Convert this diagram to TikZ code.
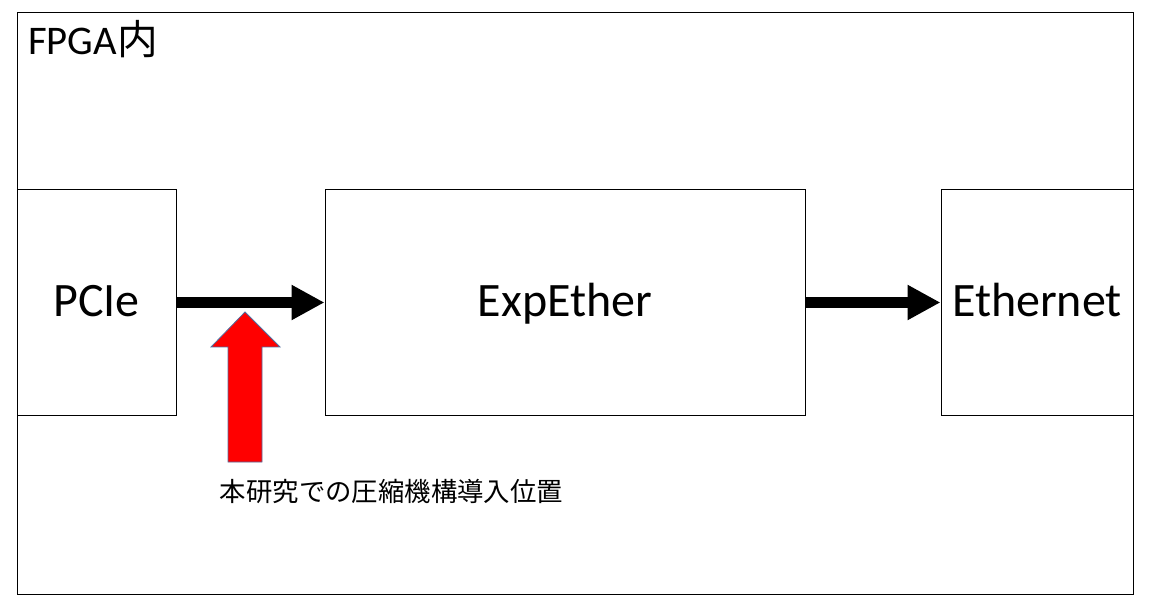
\documentclass[tikz,border=0pt]{standalone}
\usepackage{fontspec}
\setmainfont{Carlito}
\newfontfamily\jp{Noto Sans CJK JP}
\usetikzlibrary{arrows.meta}
\definecolor{edgeblue}{RGB}{80,110,160}

\begin{document}
\begin{tikzpicture}[x=0.75pt,y=-0.75pt,
        block/.style={draw,line width=0.75pt,inner sep=0pt,minimum height=168.75pt,text height=21.75pt,text depth=0pt,font=\fontsize{36}{42}\selectfont},
        flow/.style={line width=8.25pt,-{Triangle[length=24.75pt,width=24.75pt]}}]
        \useasboundingbox (0,0) rectangle (1150,595);

        \draw[line width=0.75pt] (17,13) rectangle (1133,594);
        \node[anchor=base west,inner sep=0pt,font=\fontsize{30.5}{36}\selectfont] (fpga) at (28,55) {FPGA\jp{内}};

        \node[block,minimum width=119.25pt] (pcie) at (96.5,302.5) {PCIe};
        \node[block,minimum width=360pt] (expether) at (565,302.5) {ExpEther};
        \node[block,minimum width=144pt] (ethernet) at (1037,302.5) {Ethernet};

        \draw[flow] (pcie)--(expether);
        \draw[flow] (expether)--(ethernet);

        % red block arrow
        \coordinate (tip) at (245,312);
        \filldraw[red,draw=edgeblue,line width=0.6pt] (tip)--(280,347)--(262,347)--(262,462)--(228,462)--(228,347)--(211,347)--cycle;

        \node[anchor=base,inner sep=0pt,font=\jp\fontsize{19.8}{24}\selectfont] (place) at (391.5,501) {本研究での圧縮機構導入位置};
    \end{tikzpicture}
\end{document}
